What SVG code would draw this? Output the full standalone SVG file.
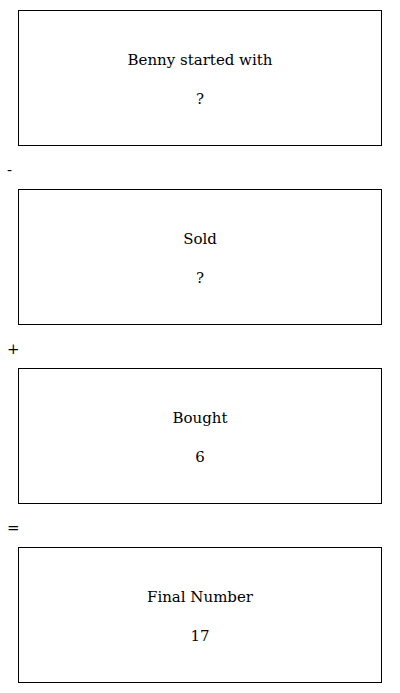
<svg xmlns="http://www.w3.org/2000/svg" width="400" height="693" viewBox="0 0 400 693">
<style>
rect.box{fill:#fff;stroke:#000;stroke-width:1}
text{font-family:"DejaVu Serif",serif;font-size:15px;fill:#000;text-anchor:middle}
text.op{text-anchor:start}
</style>
<rect width="400" height="693" fill="#fff"/>
<g id="node1"><rect class="box" x="18.5" y="10.5" width="363" height="135"/><text x="200" y="65">Benny started with</text><text x="200" y="104">?</text></g>
<g id="node2"><rect class="box" x="18.5" y="189.5" width="363" height="135"/><text x="200" y="244">Sold</text><text x="200" y="283">?</text></g>
<g id="node3"><rect class="box" x="18.5" y="368.5" width="363" height="135"/><text x="200" y="423">Bought</text><text x="200" y="462">6</text></g>
<g id="node4"><rect class="box" x="18.5" y="547.5" width="363" height="135"/><text x="200" y="602">Final Number</text><text x="200" y="641">17</text></g>
<g id="connectors">
<text class="op" x="7" y="175">-</text>
<text class="op" x="7" y="354">+</text>
<text class="op" x="7" y="533">=</text>
</g>
</svg>
